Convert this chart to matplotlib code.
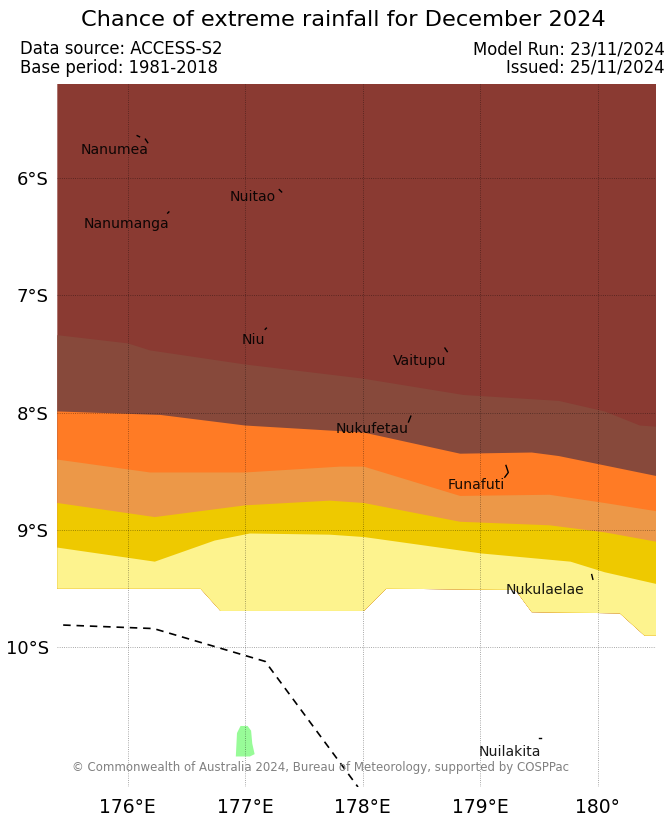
import matplotlib
matplotlib.use("Agg")
import matplotlib.pyplot as plt
import numpy as np

# band upper edges (lon, lat)
very_high_lat = [-5.2, -5.2]
very_high_lon = [175.4, 180.5]

brown_lon = [175.4, 176.0, 176.19, 177.0, 178.0, 178.86, 179.67, 180.06, 180.36, 180.5]
brown_lat = [-7.34, -7.41, -7.47, -7.59, -7.71, -7.85, -7.90, -7.99, -8.11, -8.12]

orange_lon = [175.4, 176.28, 177.0, 178.01, 178.83, 179.44, 179.67, 180.06, 180.5]
orange_lat = [-7.99, -8.02, -8.11, -8.17, -8.35, -8.34, -8.37, -8.45, -8.54]

lt_orange_lon = [175.4, 176.19, 177.0, 177.81, 178.01, 178.83, 179.59, 180.06, 180.5]
lt_orange_lat = [-8.40, -8.51, -8.51, -8.46, -8.46, -8.71, -8.70, -8.77, -8.84]

gold_lon = [175.4, 176.23, 177.0, 177.72, 178.01, 178.83, 179.59, 180.06, 180.5]
gold_lat = [-8.77, -8.89, -8.79, -8.75, -8.77, -8.93, -8.96, -9.02, -9.10]

pale_lon = [175.4, 176.23, 176.74, 177.04, 177.72, 178.01, 179.01, 179.77, 180.06, 180.5]
pale_lat = [-9.15, -9.27, -9.09, -9.03, -9.04, -9.06, -9.20, -9.27, -9.36, -9.46]

# lower edge of the lowest band
bottom_lon = [175.4, 176.62, 176.79, 178.01, 178.2, 179.3, 179.44, 180.19, 180.4, 180.5]
bottom_lat = [-9.50, -9.50, -9.69, -9.69, -9.50, -9.51, -9.70, -9.71, -9.90, -9.90]

band_colors = ["#8a3a32", "#87493b", "#ff7b25", "#ec9848", "#eec900", "#fdf38e"]

# EEZ boundary
eez_lon = [175.45, 176.22, 177.0, 177.17, 177.96]
eez_lat = [-9.81, -9.84, -10.07, -10.12, -11.19]

# green patch
patch_lon = [176.92, 176.93, 176.96, 177.02, 177.05, 177.06, 177.08, 177.04, 176.96]
patch_lat = [-10.93, -10.73, -10.67, -10.67, -10.71, -10.82, -10.91, -10.93, -10.93]

islands = {
    "Nanumea": ([176.08, 176.10], [-5.64, -5.65]),
    "Nanumea2": ([176.15, 176.17], [-5.67, -5.70]),
    "Nuitao": ([177.29, 177.31], [-6.10, -6.12]),
    "Nanumanga": ([176.34, 176.35], [-6.30, -6.29]),
    "Niu": ([177.17, 177.18], [-7.29, -7.28]),
    "Vaitupu": ([178.70, 178.72], [-7.45, -7.48]),
    "Nukufetau": ([178.41, 178.39], [-8.03, -8.08]),
    "Funafuti": ([179.22, 179.24, 179.21], [-8.45, -8.51, -8.55]),
    "Nukulaelae": ([179.95, 179.96], [-9.38, -9.42]),
    "Nuilakita": ([179.50, 179.52], [-10.77, -10.77]),
}

names = ["Nanumea", "Nuitao", "Nanumanga", "Niu", "Vaitupu", "Nukufetau", "Funafuti", "Nukulaelae", "Nuilakita"]
name_lon = [176.18, 177.26, 176.35, 177.17, 178.71, 178.39, 179.21, 179.89, 179.52]
name_lat = [-5.76, -6.16, -6.39, -7.38, -7.56, -8.14, -8.62, -9.51, -10.89]

lon_ticks = [176, 177, 178, 179, 180]
lon_labels = ["176°E", "177°E", "178°E", "179°E", "180°"]
lat_ticks = [-6, -7, -8, -9, -10]
lat_labels = ["6°S", "7°S", "8°S", "9°S", "10°S"]

fig = plt.figure(figsize=(6.66, 8.17), dpi=100)
ax = fig.add_axes([57.3 / 666, 1 - 787 / 817, 599 / 666, 703 / 817])

edges = [
    (very_high_lon, very_high_lat),
    (brown_lon, brown_lat),
    (orange_lon, orange_lat),
    (lt_orange_lon, lt_orange_lat),
    (gold_lon, gold_lat),
    (pale_lon, pale_lat),
]
for (lon, lat), color in zip(edges, band_colors):
    xs = np.concatenate([lon, bottom_lon[::-1]])
    ys = np.concatenate([lat, bottom_lat[::-1]])
    ax.fill(xs, ys, color=color, lw=0, zorder=1)

ax.fill(patch_lon, patch_lat, color="#98fb98", lw=0, zorder=2)

for lon in lon_ticks:
    ax.axvline(lon, color="black", lw=0.6, ls=":", alpha=0.45, zorder=3)
for lat in lat_ticks:
    ax.axhline(lat, color="black", lw=0.6, ls=":", alpha=0.45, zorder=3)

ax.plot(eez_lon, eez_lat, color="black", lw=1.2, ls=(0, (4.5, 3.5)), zorder=4)

for lon, lat in islands.values():
    ax.plot(lon, lat, color="black", lw=1.0, zorder=5)

for name, lon, lat in zip(names, name_lon, name_lat):
    ax.text(lon, lat, name, fontsize=10.1, ha="right", va="center", color="black", alpha=0.9, zorder=6)

ax.set_xlim(175.4, 180.5)
ax.set_ylim(-11.19, -5.2)
ax.set_xticks(lon_ticks)
ax.set_xticklabels(lon_labels, fontsize=13.5)
ax.set_yticks(lat_ticks)
ax.set_yticklabels(lat_labels, fontsize=13)
ax.tick_params(axis="x", length=0, pad=8)
ax.tick_params(axis="y", length=0, pad=6)
for side in ax.spines.values():
    side.set_visible(False)

fig.text(343 / 666, 1 - 20 / 817, "Chance of extreme rainfall for December 2024", fontsize=16.2, ha="center", va="center")
fig.text(20 / 666, 1 - 49 / 817, "Data source: ACCESS-S2", fontsize=11.9, ha="left", va="center")
fig.text(20 / 666, 1 - 68 / 817, "Base period: 1981-2018", fontsize=11.9, ha="left", va="center")
fig.text(665 / 666, 1 - 49 / 817, "Model Run: 23/11/2024", fontsize=11.9, ha="right", va="center")
fig.text(665 / 666, 1 - 68 / 817, "Issued: 25/11/2024", fontsize=11.9, ha="right", va="center")
fig.text(320 / 666, 1 - 767 / 817, "© Commonwealth of Australia 2024, Bureau of Meteorology, supported by COSPPac",
         fontsize=8.5, color="#808080", ha="center", va="center", zorder=7)

fig.savefig("out.png", dpi=100)
